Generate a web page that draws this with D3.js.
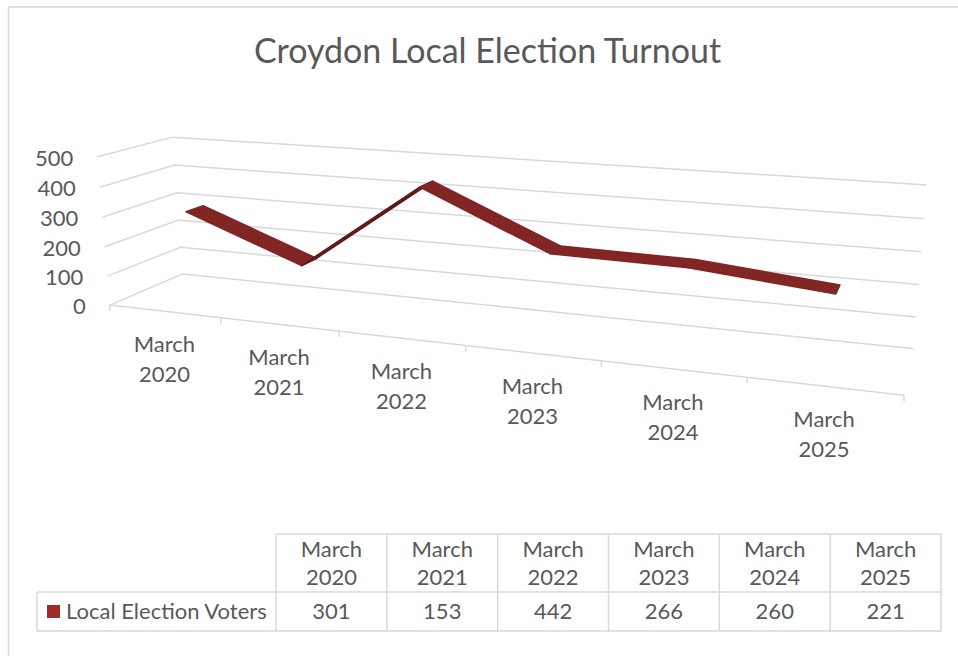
<!DOCTYPE html>
<html>
<head>
<meta charset="utf-8">
<script src="https://cdn.jsdelivr.net/npm/d3@7"></script>
<style>
  html, body { margin: 0; padding: 0; background: #fff; }
  svg { display: block; font-family: Lato, "Noto Sans", sans-serif; }
</style>
</head>
<body>
<svg id="chart" width="958" height="656"></svg>
<script>
// ---- data ----
const title = "Croydon Local Election Turnout";
const categories = ["March 2020", "March 2021", "March 2022", "March 2023", "March 2024", "March 2025"];
const seriesName = "Local Election Voters";
const voters = [301, 153, 442, 266, 260, 221];
const valueTicks = [0, 100, 200, 300, 400, 500];

// ---- styling ----
const textColor = "#595959";
const gridColor = "#d9d9d9";
const ribbonTop = "#822525";
const ribbonUnder = "#5e1a1a";
const swatchColor = "#9e2a2b";
const fontSize = 22;

// Screen positions of the visible corners of the 3-D plot box.
// World space is a unit cube: x to the right, y up, z into the page.
const boxCorners = [
  [0, 0, 0, 110, 305],
  [1, 0, 0, 904, 395],
  [0, 1, 0,  97, 157],
  [0, 0, 1, 182, 274],
  [1, 0, 1, 914, 349],
  [0, 1, 1, 173, 137],
  [1, 1, 1, 927, 185]
];

// Perspective camera fitted to the box corners (direct linear transform).
function fitCamera(pts) {
  const s = 100, n = 11;
  const rows = [], rhs = [];
  pts.forEach(([X, Y, Z, u, v]) => {
    u /= s; v /= s;
    rows.push([X, Y, Z, 1, 0, 0, 0, 0, -u * X, -u * Y, -u * Z]); rhs.push(u);
    rows.push([0, 0, 0, 0, X, Y, Z, 1, -v * X, -v * Y, -v * Z]); rhs.push(v);
  });
  const M = Array.from({ length: n }, () => new Array(n + 1).fill(0));
  rows.forEach((r, k) => {
    for (let i = 0; i < n; i++) {
      for (let j = 0; j < n; j++) M[i][j] += r[i] * r[j];
      M[i][n] += r[i] * rhs[k];
    }
  });
  for (let c = 0; c < n; c++) {
    let p = c;
    for (let r = c + 1; r < n; r++) if (Math.abs(M[r][c]) > Math.abs(M[p][c])) p = r;
    [M[c], M[p]] = [M[p], M[c]];
    for (let r = 0; r < n; r++) {
      if (r === c) continue;
      const f = M[r][c] / M[c][c];
      for (let j = c; j <= n; j++) M[r][j] -= f * M[c][j];
    }
  }
  const q = M.map((row, i) => row[n] / row[i]);
  return (X, Y, Z) => {
    const w = q[8] * X + q[9] * Y + q[10] * Z + 1;
    return [s * (q[0] * X + q[1] * Y + q[2] * Z + q[3]) / w,
            s * (q[4] * X + q[5] * Y + q[6] * Z + q[7]) / w];
  };
}
const project = fitCamera(boxCorners);

// ---- scales ----
const x = d3.scaleBand().domain(categories).range([0, 1]);
const y = d3.scaleLinear().domain([0, 500]).range([0, 1]);
const zFront = 0.38, zBack = 0.62;
const xc = c => x(c) + x.bandwidth() / 2;

const svg = d3.select("#chart");
const line = d3.line();

// chart frame
svg.append("rect")
  .attr("x", 8.5).attr("y", 7).attr("width", 980).attr("height", 700)
  .attr("fill", "#fff").attr("stroke", gridColor).attr("stroke-width", 1.5);

// title
svg.append("text")
  .attr("x", 487.5).attr("y", 63)
  .attr("text-anchor", "middle")
  .attr("fill", textColor)
  .attr("font-size", 34)
  .text(title);

// ---- walls: gridlines on side wall and back wall ----
const grid = svg.append("g").attr("fill", "none").attr("stroke", gridColor).attr("stroke-width", 1.5);
valueTicks.forEach(v => {
  grid.append("path").attr("d", line([
    project(0, y(v), 0), project(0, y(v), 1), project(1, y(v), 1)
  ]));
});

// category axis along the front edge of the floor
grid.append("path").attr("d", line([project(0, 0, 0), project(1, 0, 0)]));
const boundaries = categories.map(c => x(c)).concat([1]);
boundaries.forEach(b => {
  const p = project(b, 0, 0);
  grid.append("path").attr("d", line([p, [p[0], p[1] + 6]]));
});

// value axis labels
const capHalf = fontSize * 0.36;
svg.append("g").selectAll("text").data(valueTicks).join("text")
  .attr("x", v => project(0, y(v), 0)[0] - 24)
  .attr("y", v => project(0, y(v), 0)[1] + 1 + capHalf)
  .attr("text-anchor", "end")
  .attr("fill", textColor)
  .attr("font-size", fontSize)
  .text(v => v);

// category labels (two lines each)
const catLabels = svg.append("g").selectAll("text").data(categories).join("text")
  .attr("text-anchor", "middle")
  .attr("fill", textColor)
  .attr("font-size", fontSize);
catLabels.each(function (c) {
  const p = project(xc(c), 0, 0);
  const parts = c.split(" ");
  const t = d3.select(this);
  t.append("tspan").attr("x", p[0]).attr("y", p[1] + 33 + capHalf).text(parts[0]);
  t.append("tspan").attr("x", p[0]).attr("y", p[1] + 63 + capHalf).text(parts[1]);
});

// ---- 3-D ribbon ----
const pts = categories.map((c, i) => ({ X: xc(c), Y: y(voters[i]) }));
const ribbon = svg.append("g");
d3.pairs(pts).forEach(([a, b]) => {
  const quad = [
    project(a.X, a.Y, zFront), project(b.X, b.Y, zFront),
    project(b.X, b.Y, zBack), project(a.X, a.Y, zBack)
  ];
  // upper face faces the viewer when the quad winds one way, the underside otherwise
  const col = d3.polygonArea(quad) > 0 ? ribbonTop : ribbonUnder;
  ribbon.append("path")
    .attr("d", line(quad) + "Z")
    .attr("fill", col)
    .attr("stroke", col)
    .attr("stroke-width", 1.6)
    .attr("stroke-linejoin", "round");
});

// ---- data table ----
const col = d3.scaleBand().domain(categories).range([276, 941]);
const tableTop = 534, rowTop = 592, tableBottom = 631, rowLeft = 37;
const table = svg.append("g");
const border = table.append("g").attr("fill", "none").attr("stroke", gridColor).attr("stroke-width", 1.5);
border.append("path").attr("d", line([[276, tableTop], [941, tableTop]]));
border.append("path").attr("d", line([[rowLeft, rowTop], [941, rowTop]]));
border.append("path").attr("d", line([[rowLeft, tableBottom], [941, tableBottom]]));
border.append("path").attr("d", line([[rowLeft, rowTop], [rowLeft, tableBottom]]));
boundaries.forEach((b, i) => {
  const xx = i < categories.length ? col(categories[i]) : 941;
  border.append("path").attr("d", line([[xx, tableTop], [xx, tableBottom]]));
});

categories.forEach((c, i) => {
  const cx = col(c) + col.bandwidth() / 2;
  const parts = c.split(" ");
  const g = table.append("g").attr("fill", textColor).attr("font-size", fontSize).attr("text-anchor", "middle");
  g.append("text").attr("x", cx).attr("y", 557).text(parts[0]);
  g.append("text").attr("x", cx).attr("y", 585).text(parts[1]);
  g.append("text").attr("x", cx).attr("y", 619).text(voters[i]);
});

table.append("rect")
  .attr("x", 47).attr("y", 605).attr("width", 13).attr("height", 13)
  .attr("fill", swatchColor);
table.append("text")
  .attr("x", 66).attr("y", 619)
  .attr("fill", textColor)
  .attr("font-size", fontSize)
  .text(seriesName);
</script>
</body>
</html>
